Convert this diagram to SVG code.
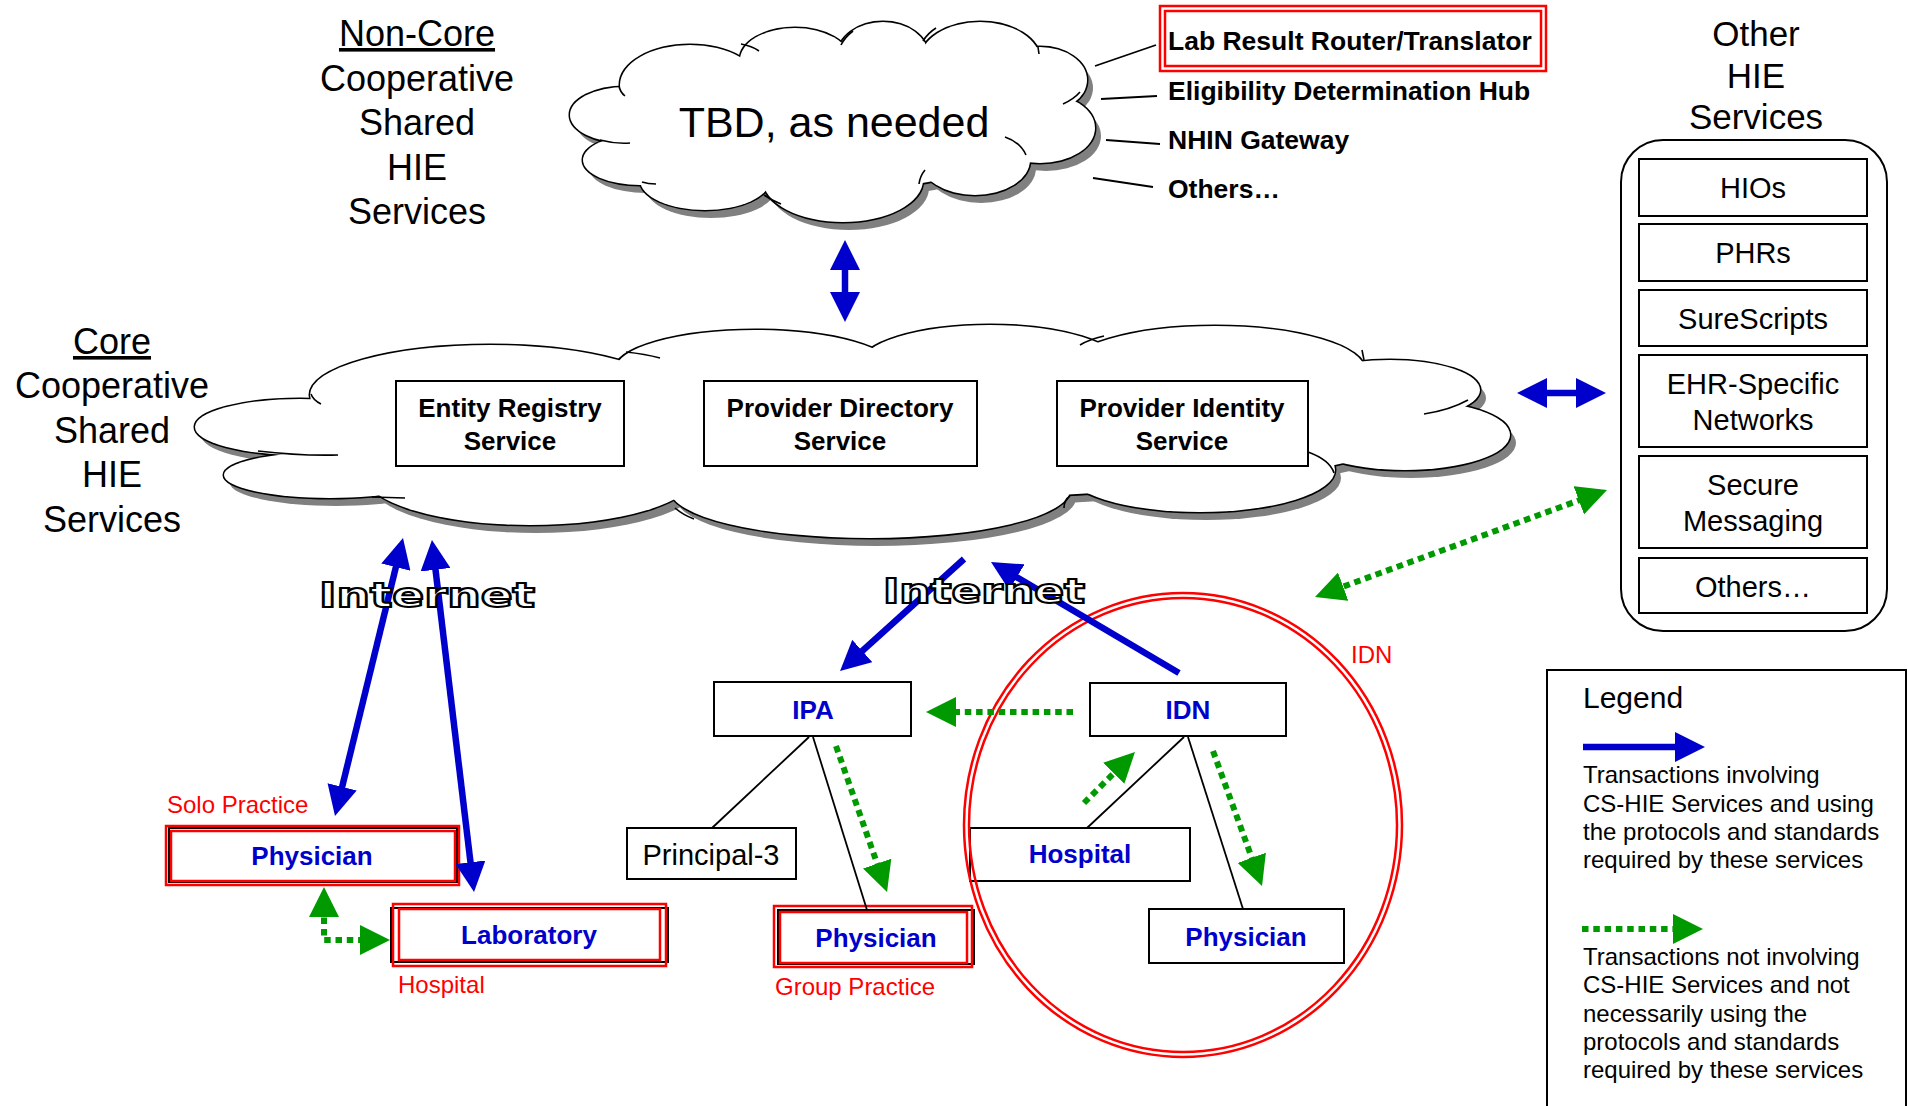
<svg xmlns="http://www.w3.org/2000/svg" xmlns:xlink="http://www.w3.org/1999/xlink" width="1908" height="1106" viewBox="0 0 1908 1106">
<style>
text{font-family:"Liberation Sans",Arial,sans-serif;}
.h{font-size:36px;text-anchor:middle;fill:#000}
.h2{font-size:35px;text-anchor:middle;fill:#000}
.lbl{font-size:26.5px;font-weight:bold;fill:#000}
.svc{font-size:26px;font-weight:bold;text-anchor:middle;fill:#000}
.node{font-size:26px;font-weight:bold;text-anchor:middle;fill:#0000CC}
.red{font-size:24px;fill:#FF0000}
.oth{font-size:29px;text-anchor:middle;fill:#000}
.leg{font-size:24px;fill:#000}
.box{fill:#fff;stroke:#000;stroke-width:2}
.rb{fill:none;stroke:#FF0000;stroke-width:2.5}
.thin{stroke:#000;stroke-width:1.8;fill:none}
.frag{stroke:#000;stroke-width:1.6;fill:none}
.blue{stroke:#0000CC;stroke-width:6.5;fill:none}
.green{stroke:#009900;stroke-width:6;fill:none;stroke-dasharray:6.5 4.8}
.net{font-family:"DejaVu Sans",sans-serif;font-weight:bold;font-size:33px;fill:#fff;stroke:#000;stroke-width:2}
</style>
<defs>
<marker id="bh" markerUnits="userSpaceOnUse" markerWidth="30" markerHeight="30" refX="22" refY="15" orient="auto-start-reverse" viewBox="0 0 30 30"><path d="M0,0 L30,15 L0,30 z" fill="#0000CC"/></marker>
<marker id="gh" markerUnits="userSpaceOnUse" markerWidth="30" markerHeight="30" refX="22" refY="15" orient="auto-start-reverse" viewBox="0 0 30 30"><path d="M0,0 L30,15 L0,30 z" fill="#009900"/></marker>
<g id="tbdLobes">
<ellipse cx="625" cy="115" rx="55" ry="28"/>
<ellipse cx="640" cy="160" rx="57" ry="25"/>
<ellipse cx="705" cy="180" rx="65" ry="30"/>
<ellipse cx="843" cy="180" rx="80" ry="42"/>
<ellipse cx="975" cy="160" rx="55" ry="35"/>
<ellipse cx="1040" cy="128" rx="55" ry="35"/>
<ellipse cx="1040" cy="80" rx="47" ry="33"/>
<ellipse cx="980" cy="60" rx="60" ry="38"/>
<ellipse cx="883" cy="55" rx="45" ry="33"/>
<ellipse cx="795" cy="60" rx="55" ry="32"/>
<ellipse cx="690" cy="85" rx="70" ry="40"/>
<ellipse cx="835" cy="120" rx="200" ry="70"/>
</g>
<g id="coreLobes">
<ellipse cx="300" cy="427" rx="105" ry="28"/>
<ellipse cx="330" cy="475" rx="106" ry="23"/>
<ellipse cx="490" cy="395" rx="180" ry="50"/>
<ellipse cx="755" cy="370" rx="140" ry="40"/>
<ellipse cx="990" cy="365" rx="130" ry="40"/>
<ellipse cx="1215" cy="370" rx="150" ry="44"/>
<ellipse cx="1390" cy="390" rx="90" ry="30"/>
<ellipse cx="1405" cy="435" rx="105" ry="35"/>
<ellipse cx="1200" cy="470" rx="135" ry="42"/>
<ellipse cx="870" cy="490" rx="200" ry="48"/>
<ellipse cx="530" cy="475" rx="165" ry="50"/>
<ellipse cx="850" cy="430" rx="560" ry="70"/>
</g>
</defs>
<rect width="1908" height="1106" fill="#fff"/>

<g id="title-noncore">
<text class="h" x="417" y="46" text-decoration="underline">Non-Core</text>
<text class="h" x="417" y="91">Cooperative</text>
<text class="h" x="417" y="135">Shared</text>
<text class="h" x="417" y="180">HIE</text>
<text class="h" x="417" y="224">Services</text>
</g>
<g id="title-core">
<text class="h" x="112" y="354" text-decoration="underline">Core</text>
<text class="h" x="112" y="398">Cooperative</text>
<text class="h" x="112" y="443">Shared</text>
<text class="h" x="112" y="487">HIE</text>
<text class="h" x="112" y="532">Services</text>
</g>

<g id="tbd-cloud">
<use xlink:href="#tbdLobes" fill="#808080" transform="translate(6,8)"/>
<use xlink:href="#tbdLobes" fill="#fff" stroke="#000" stroke-width="3"/>
<use xlink:href="#tbdLobes" fill="#fff"/>
<path class="frag" d="M741,44 Q752,46 759,51 M841,45 Q845,37 853,31 M923,41 Q928,33 936,28 M1038,47 L1039,54 M1063,104 Q1074,99 1080,92 M1005,137 Q1020,142 1026,155 M919,184 Q920,176 925,170 M764,195 Q771,200 781,204 M642,182 Q648,184 656,184 M600,140 Q615,144 630,143 M619,86 Q620,92 625,96"/>
<text x="834" y="137" style="font-size:43px;text-anchor:middle">TBD, as needed</text>
</g>

<g id="noncore-services">
<rect class="rb" x="1160" y="6" width="386" height="65"/>
<rect class="rb" x="1165" y="11" width="376" height="55"/>
<text class="lbl" x="1168" y="50">Lab Result Router/Translator</text>
<text class="lbl" x="1168" y="100">Eligibility Determination Hub</text>
<text class="lbl" x="1168" y="149">NHIN Gateway</text>
<text class="lbl" x="1168" y="198">Others…</text>
<line class="thin" x1="1095" y1="66" x2="1156" y2="45"/>
<line class="thin" x1="1101" y1="99" x2="1157" y2="96"/>
<line class="thin" x1="1106" y1="140" x2="1160" y2="144"/>
<line class="thin" x1="1093" y1="178" x2="1153" y2="187"/>
</g>

<g id="core-cloud">
<use xlink:href="#coreLobes" fill="#808080" transform="translate(6,8)"/>
<use xlink:href="#coreLobes" fill="#fff" stroke="#000" stroke-width="3"/>
<use xlink:href="#coreLobes" fill="#fff"/>
<path class="frag" d="M311,394 Q313,400 321,404 M626,352 Q645,354 660,358 M1080,345 Q1090,339 1104,336 M1362,350 L1364,360 M1424,414 Q1450,410 1468,400 M1308,452 Q1330,460 1334,473 M1070,496 Q1064,500 1064,508 M675,508 Q683,515 694,519 M372,497 L405,498 M258,451 Q300,456 338,455"/>
</g>
<g id="entity-registry">
<rect class="box" x="396" y="381" width="228" height="85"/>
<text class="svc" x="510" y="417">Entity Registry</text>
<text class="svc" x="510" y="450">Service</text>
</g>
<g id="provider-directory">
<rect class="box" x="704" y="381" width="273" height="85"/>
<text class="svc" x="840" y="417">Provider Directory</text>
<text class="svc" x="840" y="450">Service</text>
</g>
<g id="provider-identity">
<rect class="box" x="1057" y="381" width="251" height="85"/>
<text class="svc" x="1182" y="417">Provider Identity</text>
<text class="svc" x="1182" y="450">Service</text>
</g>

<g id="other-hie">
<text class="h2" x="1756" y="46">Other</text>
<text class="h2" x="1756" y="88">HIE</text>
<text class="h2" x="1756" y="129">Services</text>
<rect x="1621" y="140" width="266" height="491" rx="42" fill="#fff" stroke="#000" stroke-width="2"/>
<rect class="box" x="1639" y="159" width="228" height="57"/>
<text class="oth" x="1753" y="198">HIOs</text>
<rect class="box" x="1639" y="224" width="228" height="57"/>
<text class="oth" x="1753" y="263">PHRs</text>
<rect class="box" x="1639" y="290" width="228" height="56"/>
<text class="oth" x="1753" y="329">SureScripts</text>
<rect class="box" x="1639" y="355" width="228" height="92"/>
<text class="oth" x="1753" y="394">EHR-Specific</text>
<text class="oth" x="1753" y="430">Networks</text>
<rect class="box" x="1639" y="456" width="228" height="92"/>
<text class="oth" x="1753" y="495">Secure</text>
<text class="oth" x="1753" y="531">Messaging</text>
<rect class="box" x="1639" y="558" width="228" height="55"/>
<text class="oth" x="1753" y="597">Others…</text>
</g>

<g id="solo-physician">
<text class="red" x="167" y="813">Solo Practice</text>
<rect class="box" x="169" y="828" width="288" height="54"/>
<rect class="rb" x="166" y="826" width="293" height="59"/>
<rect class="rb" x="171" y="831" width="284" height="50"/>
<text class="node" x="312" y="865">Physician</text>
</g>
<g id="laboratory">
<rect class="box" x="391" y="908" width="277" height="54"/>
<rect class="rb" x="393" y="904" width="273" height="62"/>
<rect class="rb" x="399" y="909" width="261" height="51"/>
<text class="node" x="529" y="944">Laboratory</text>
<text class="red" x="398" y="993">Hospital</text>
</g>
<g id="ipa">
<rect class="box" x="714" y="682" width="197" height="54"/>
<text class="node" x="813" y="719">IPA</text>
</g>
<g id="principal-3">
<rect class="box" x="627" y="828" width="169" height="51"/>
<text x="711" y="865" style="font-size:29px;text-anchor:middle">Principal-3</text>
</g>
<g id="group-physician">
<rect class="box" x="778" y="910" width="196" height="54"/>
<rect class="rb" x="774" y="906" width="198" height="61"/>
<rect class="rb" x="780" y="912" width="187" height="51"/>
<text class="node" x="876" y="947">Physician</text>
<text class="red" x="775" y="995">Group Practice</text>
</g>
<g id="idn">
<rect class="box" x="1090" y="683" width="196" height="53"/>
<text class="node" x="1188" y="719">IDN</text>
</g>
<g id="idn-hospital">
<rect class="box" x="970" y="828" width="220" height="53"/>
<text class="node" x="1080" y="863">Hospital</text>
</g>
<g id="idn-physician">
<rect class="box" x="1149" y="909" width="195" height="54"/>
<text class="node" x="1246" y="946">Physician</text>
</g>
<g id="idn-boundary">
<ellipse class="rb" cx="1183" cy="825" rx="219" ry="232"/>
<ellipse class="rb" cx="1183" cy="825" rx="214" ry="227"/>
<text class="red" x="1351" y="663">IDN</text>
</g>

<g id="legend">
<rect x="1547" y="670" width="359" height="460" fill="#fff" stroke="#000" stroke-width="2"/>
<text x="1583" y="708" style="font-size:30px">Legend</text>
<line class="blue" x1="1583" y1="747" x2="1697" y2="747" marker-end="url(#bh)"/>
<text class="leg" x="1583" y="783">Transactions involving</text>
<text class="leg" x="1583" y="812">CS-HIE Services and using</text>
<text class="leg" x="1583" y="840">the protocols and standards</text>
<text class="leg" x="1583" y="868">required by these services</text>
<line class="green" x1="1582" y1="929" x2="1695" y2="929" marker-end="url(#gh)"/>
<text class="leg" x="1583" y="965">Transactions not involving</text>
<text class="leg" x="1583" y="993">CS-HIE Services and not</text>
<text class="leg" x="1583" y="1022">necessarily using the</text>
<text class="leg" x="1583" y="1050">protocols and standards</text>
<text class="leg" x="1583" y="1078">required by these services</text>
</g>

<g id="connectors">
<line class="thin" x1="809" y1="737" x2="712" y2="828"/>
<line class="thin" x1="813" y1="737" x2="867" y2="910"/>
<line class="thin" x1="1184" y1="737" x2="1087" y2="828"/>
<line class="thin" x1="1188" y1="737" x2="1243" y2="909"/>
<line class="blue" x1="845" y1="248" x2="845" y2="314" marker-start="url(#bh)" marker-end="url(#bh)"/>
<line class="blue" x1="1525" y1="393" x2="1598" y2="393" marker-start="url(#bh)" marker-end="url(#bh)"/>
<line class="blue" x1="401.1" y1="545.8" x2="336.9" y2="808.2" marker-start="url(#bh)" marker-end="url(#bh)"/>
<line class="blue" x1="432.9" y1="547.9" x2="473.1" y2="884.1" marker-start="url(#bh)" marker-end="url(#bh)"/>
<line class="blue" x1="964" y1="559" x2="846" y2="665.7" marker-end="url(#bh)"/>
<line class="blue" x1="1179" y1="673" x2="997.9" y2="566.1" marker-end="url(#bh)"/>
<line class="green" x1="1322.5" y1="594.2" x2="1599.5" y2="492.8" marker-start="url(#gh)" marker-end="url(#gh)"/>
<line class="green" x1="1073" y1="712" x2="934" y2="712" marker-end="url(#gh)"/>
<line class="green" x1="836" y1="746" x2="884.4" y2="884.4" marker-end="url(#gh)"/>
<line class="green" x1="1084" y1="803" x2="1129.3" y2="757.7" marker-end="url(#gh)"/>
<line class="green" x1="1213" y1="751" x2="1259.3" y2="878.5" marker-end="url(#gh)"/>
<path class="green" d="M324,895 L324,940 L382,940" marker-start="url(#gh)" marker-end="url(#gh)"/>
</g>

<g id="internet-labels">
<text class="net" x="319" y="607" textLength="216" lengthAdjust="spacingAndGlyphs">Internet</text>
<text class="net" x="883" y="603" textLength="202" lengthAdjust="spacingAndGlyphs">Internet</text>
</g>
</svg>
